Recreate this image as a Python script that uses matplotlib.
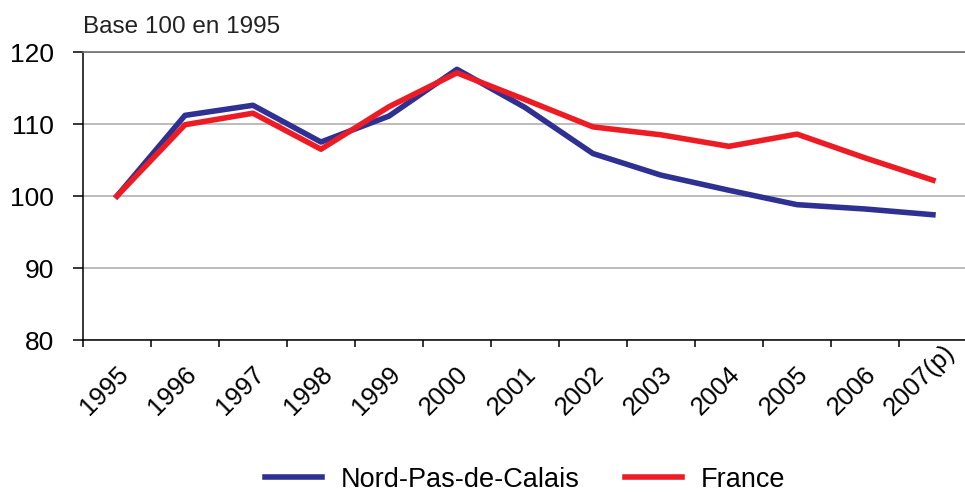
import numpy as np
import matplotlib
matplotlib.use('Agg')
import matplotlib.pyplot as plt
import matplotlib.transforms as mtransforms

plt.rcParams.update({
    'font.family': ['Liberation Sans', 'DejaVu Sans'],
    'font.size': 19,
})

years = ['1995', '1996', '1997', '1998', '1999', '2000', '2001',
         '2002', '2003', '2004', '2005', '2006', '2007(p)']
nord = [100.0, 111.2, 112.6, 107.5, 111.1, 117.6, 112.3,
        105.9, 102.9, 100.8, 98.8, 98.2, 97.4]
france = [100.0, 109.9, 111.5, 106.5, 112.4, 117.1, 113.4,
          109.6, 108.5, 106.9, 108.6, 105.3, 102.2]
yticks = [80, 90, 100, 110, 120]

BLUE = '#2E3192'
RED = '#ED1C24'

fig = plt.figure(figsize=(9.65, 4.93), dpi=100)
ax = fig.add_axes([0.086, 0.3103, 0.916, 0.5842])

x = np.arange(len(years))
ax.plot(x, nord, color=BLUE, linewidth=4.0, label='Nord-Pas-de-Calais', zorder=3)
ax.plot(x, france, color=RED, linewidth=4.0, label='France', zorder=4)

ax.set_xlim(-0.5, len(years) - 0.5)
ax.set_ylim(80, 120)
ax.set_yticks(yticks)
ax.yaxis.grid(True, color='#b0b0b0', linewidth=1.2)
ax.set_axisbelow(True)

# category labels at centres, tick marks at boundaries
ax.set_xticks(x)
ax.set_xticklabels(years, rotation=45, ha='center', va='bottom')
ax.set_xticks(np.arange(-0.5, len(years), 1), minor=True)
ax.tick_params(axis='x', which='major', length=0, pad=0, labelsize=18.5)
ax.tick_params(axis='x', which='minor', length=5, width=1.1, direction='out')
ax.tick_params(axis='y', length=7, width=1.1, direction='out', pad=14, labelsize=19)

# labels sit bottom-aligned below the axis, a bit left of the category centre
shift = mtransforms.ScaledTranslation(-13 / 100, -80 / 100, fig.dpi_scale_trans)
for lab in ax.get_xticklabels():
    lab.set_transform(lab.get_transform() + shift)

ax.spines['right'].set_visible(False)
ax.spines['top'].set_color('#707070')
ax.spines['top'].set_linewidth(1.2)
for s in ['left', 'bottom']:
    ax.spines[s].set_linewidth(1.1)

fig.text(0.086, 0.933, 'Base 100 en 1995', fontsize=17.5, color='#222222',
         ha='left', va='baseline')

fig.legend(loc='center', bbox_to_anchor=(0.544, 0.027), ncol=2, frameon=False,
           fontsize=19.5, handlelength=2.1, handletextpad=0.7, columnspacing=1.66,
           borderaxespad=0, borderpad=0)

fig.savefig('out.png', dpi=100)
